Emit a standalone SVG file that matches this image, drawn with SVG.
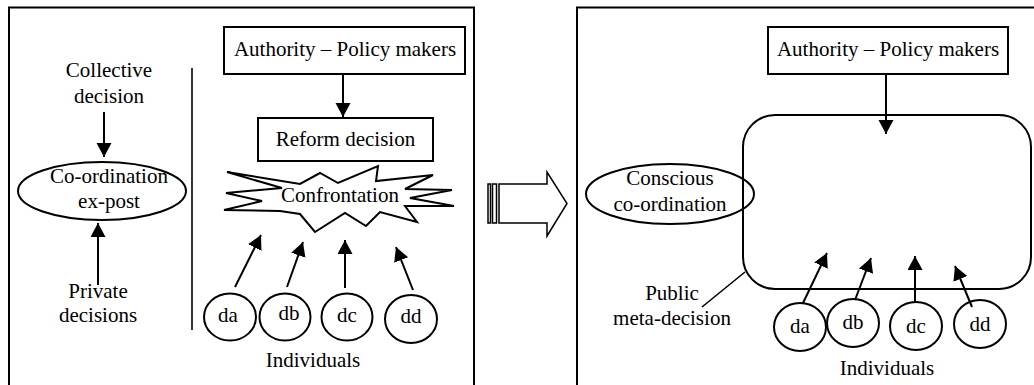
<svg xmlns="http://www.w3.org/2000/svg" width="1034" height="385" viewBox="0 0 1034 385">
  <style>
    text { font-family: "Liberation Serif", "Times New Roman", serif; font-size: 21px; fill: #000; text-anchor: middle; }
    .frame { fill: none; stroke: #000; stroke-width: 2; }
    .box { fill: #fff; stroke: #000; stroke-width: 2; }
    .oval { fill: none; stroke: #000; stroke-width: 2; }
    .link { fill: none; stroke: #000; stroke-width: 2; marker-end: url(#head); }
    .plain { fill: none; stroke: #000; stroke-width: 1.6; }
  </style>
  <defs>
    <marker id="head" markerUnits="userSpaceOnUse" markerWidth="16" markerHeight="16" refX="14" refY="7.5" orient="auto">
      <path d="M0,0 L14,7.5 L0,15 Z" fill="#000"/>
    </marker>
  </defs>
  <rect width="1034" height="385" fill="#fff"/>

  <!-- Panel frames (open at the bottom / right) -->
  <g id="frames">
    <path class="frame" d="M9,385 V7.5 H474 V385"/>
    <path class="frame" d="M577,385 V7.5 H1034"/>
    <line class="plain" x1="192" y1="68" x2="192" y2="330" stroke-width="2"/>
  </g>

  <!-- Left panel: spontaneous co-ordination -->
  <g id="collective-decision">
    <text x="109" y="77">Collective</text>
    <text x="109" y="103">decision</text>
  </g>
  <g id="coordination-expost">
    <ellipse class="oval" cx="102" cy="191" rx="84" ry="29"/>
    <text x="109" y="183">Co-ordination</text>
    <text x="109" y="208">ex-post</text>
  </g>
  <g id="private-decisions">
    <text x="98" y="298">Private</text>
    <text x="98" y="322">decisions</text>
  </g>
  <g id="authority-left">
    <rect class="box" x="224" y="27" width="241" height="47"/>
    <text x="345" y="56">Authority – Policy makers</text>
  </g>
  <g id="reform-decision">
    <rect class="box" x="258" y="118" width="175" height="43"/>
    <text x="345.5" y="146">Reform decision</text>
  </g>
  <g id="confrontation">
    <polygon fill="#fff" stroke="#000" stroke-width="2" stroke-linejoin="miter"
      points="227,172 300,184 320,173 338,183 378,166 376,181 433,175 405,189 452,190 410,198 454,206 405,206 417,222 380,212 366,226 345,213 315,232 300,214 280,211 224,210 262,201 226,193 282,188"/>
    <text x="340" y="202">Confrontation</text>
  </g>
  <g id="left-da">
    <ellipse class="oval" cx="230" cy="317" rx="26" ry="23.5"/>
    <text x="228" y="322">da</text>
  </g>
  <g id="left-db">
    <ellipse class="oval" cx="285" cy="317" rx="25.5" ry="23.5"/>
    <text x="289" y="320">db</text>
  </g>
  <g id="left-dc">
    <ellipse class="oval" cx="347" cy="317" rx="25.5" ry="23.5"/>
    <text x="347" y="322">dc</text>
  </g>
  <g id="left-dd">
    <ellipse class="oval" cx="411" cy="319" rx="26" ry="24"/>
    <text x="411" y="323">dd</text>
  </g>
  <g id="left-individuals">
    <text x="313" y="367">Individuals</text>
  </g>

  <!-- Transition arrow -->
  <g id="transition-arrow" fill="#fff" stroke="#000" stroke-width="1.5">
    <rect x="488" y="184" width="2.5" height="39"/>
    <rect x="492.5" y="184" width="4" height="39"/>
    <path d="M499,184 H547 V172 L567,203.5 L547,236 V223 H499 Z"/>
  </g>

  <!-- Right panel: conscious co-ordination -->
  <g id="authority-right">
    <rect class="box" x="768" y="27" width="240" height="47"/>
    <text x="888" y="56">Authority – Policy makers</text>
  </g>
  <g id="public-meta-decision">
    <rect class="oval" x="743" y="115" width="288" height="174" rx="32" ry="32"/>
  </g>
  <g id="conscious-coordination">
    <ellipse class="oval" cx="670" cy="194" rx="84" ry="30"/>
    <text x="670" y="185">Conscious</text>
    <text x="670" y="211">co-ordination</text>
  </g>
  <g id="public-label">
    <text x="672" y="300">Public</text>
    <text x="672" y="325">meta-decision</text>
  </g>
  <g id="right-da">
    <ellipse class="oval" cx="800" cy="327" rx="26" ry="24"/>
    <text x="800" y="333">da</text>
  </g>
  <g id="right-db">
    <ellipse class="oval" cx="853" cy="323" rx="26" ry="24"/>
    <text x="853" y="329">db</text>
  </g>
  <g id="right-dc">
    <ellipse class="oval" cx="916" cy="326" rx="26" ry="24"/>
    <text x="916" y="333">dc</text>
  </g>
  <g id="right-dd">
    <ellipse class="oval" cx="980" cy="324" rx="26" ry="24"/>
    <text x="980" y="331">dd</text>
  </g>
  <g id="right-individuals">
    <text x="887" y="375">Individuals</text>
  </g>

  <!-- Connectors -->
  <g id="connectors">
    <line class="link" x1="104" y1="112" x2="104" y2="157"/>
    <line class="link" x1="98" y1="285" x2="98" y2="223"/>
    <line class="link" x1="343" y1="74" x2="343" y2="117"/>
    <line class="link" x1="235" y1="287" x2="261" y2="235"/>
    <line class="link" x1="287" y1="287" x2="303" y2="242"/>
    <line class="link" x1="345" y1="288" x2="345" y2="240"/>
    <line class="link" x1="413" y1="290" x2="396" y2="247"/>
    <line class="link" x1="886" y1="74" x2="886" y2="134"/>
    <line class="link" x1="803" y1="303" x2="827" y2="253"/>
    <line class="link" x1="855" y1="300" x2="871" y2="258"/>
    <line class="link" x1="915" y1="302" x2="915" y2="256"/>
    <line class="link" x1="972" y1="307" x2="955" y2="266"/>
    <line class="plain" x1="745" y1="272" x2="702" y2="307"/>
  </g>
</svg>
